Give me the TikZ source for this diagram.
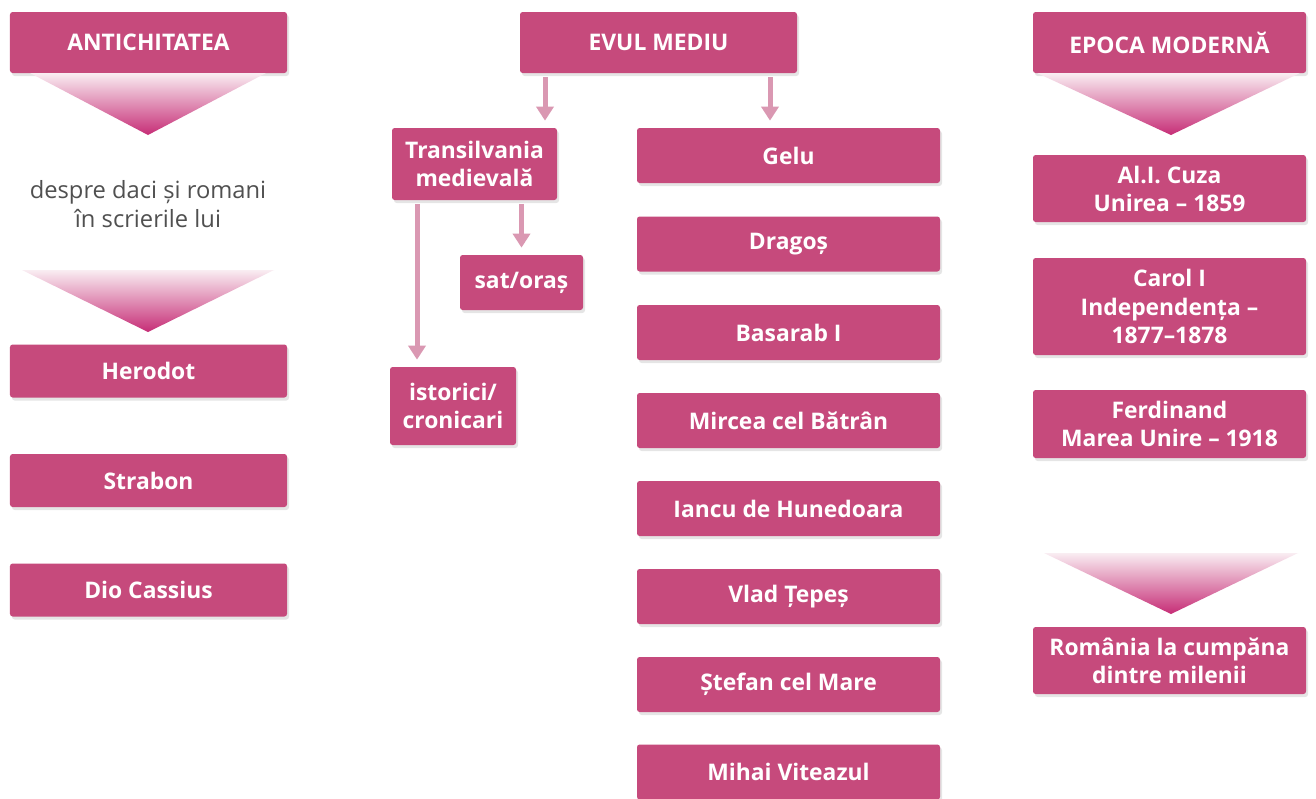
\documentclass[tikz,border=0pt]{standalone}
\usepackage{fontspec}
\setmainfont{Open Sans}
\usetikzlibrary{arrows.meta,shadows}
\definecolor{boxpink}{RGB}{198,74,124}
\definecolor{arrowpink}{RGB}{218,152,178}
\definecolor{tippink}{RGB}{198,45,118}
\definecolor{textgray}{RGB}{80,80,80}
\tikzset{
  box/.style={fill=boxpink, text=white, rounded corners=1.5pt, align=center, inner sep=0pt,
    font=\fontsize{13}{16}\selectfont\bfseries,
    drop shadow={shadow xshift=0.4mm, shadow yshift=-0.6mm, opacity=0.2}},
  arr/.style={arrowpink, line width=1mm, -{Triangle[width=3.4mm,length=2.8mm]},
    shorten >=1.4mm, shorten <=0.8mm},
  funnel/.style={top color=boxpink!10, bottom color=tippink}
}

\begin{document}
\begin{tikzpicture}[x=0.2mm, y=-0.2mm]
    \useasboundingbox (0,0) rectangle (1316,799);
    \fill[white] (0,0) rectangle (1316,799);

    % Antichitatea
    \node[box, minimum width=55.4mm, minimum height=12.2mm] (anti) at (148.5,42.5) {ANTICHITATEA};
    \shade[funnel] (30,73) -- (266,73) -- (148,135) -- cycle;
    \node[align=center, text=textgray, font=\fontsize{13.5}{16.5}\selectfont] (despre) at (148,204)
        {despre daci și romani\\în scrierile lui};
    \shade[funnel] (22,270) -- (274,270) -- (148,332) -- cycle;
    \node[box, minimum width=55.4mm, minimum height=10.6mm] (herodot) at (148.5,371) {Herodot};
    \node[box, minimum width=55.4mm, minimum height=10.6mm] (strabon) at (148.5,480.5) {Strabon};
    \node[box, minimum width=55.4mm, minimum height=10.6mm] (dio) at (148.5,590) {Dio Cassius};

    % Evul mediu
    \node[box, minimum width=55.4mm, minimum height=12.2mm] (evul) at (658.5,42.5) {EVUL MEDIU};
    \node[box, minimum width=33mm, minimum height=14.4mm] (transilv) at (474.5,164) {Transilvania\\medievală};
    \node[box, minimum width=24.6mm, minimum height=11mm] (satoras) at (521.5,282.5) {sat/oraș};
    \node[box, minimum width=25.2mm, minimum height=15.6mm] (istorici) at (453,406) {istorici/\\cronicari};

    \node[box, minimum width=60.6mm, minimum height=11mm] (gelu) at (788.5,155.5) {Gelu};
    \node[box, minimum width=60.6mm, minimum height=11mm] (dragos) at (788.5,244) {Dragoș};
    \node[box, minimum width=60.6mm, minimum height=11mm] (basarab) at (788.5,332.5) {Basarab I};
    \node[box, minimum width=60.6mm, minimum height=11mm] (mircea) at (788.5,420.5) {Mircea cel Bătrân};
    \node[box, minimum width=60.6mm, minimum height=11mm] (iancu) at (788.5,508.5) {Iancu de Hunedoara};
    \node[box, minimum width=60.6mm, minimum height=11mm] (vlad) at (788.5,596.5) {Vlad Țepeș};
    \node[box, minimum width=60.6mm, minimum height=11mm] (stefan) at (788.5,684.5) {Ștefan cel Mare};
    \node[box, minimum width=60.6mm, minimum height=11mm] (mihai) at (788.5,772) {Mihai Viteazul};

    \draw[arr] ([xshift=-22.7mm]evul.south) -- ([xshift=-22.7mm]evul.south |- transilv.north);
    \draw[arr] ([xshift=22.3mm]evul.south) -- ([xshift=22.3mm]evul.south |- gelu.north);
    \draw[arr] (transilv.south -| satoras.north) -- (satoras.north);
    \draw[arr] ([xshift=-11.5mm]transilv.south) -- ([xshift=-11.5mm]transilv.south |- istorici.north);

    % Epoca moderna
    \node[box, minimum width=54.6mm, minimum height=12.2mm] (epoca) at (1169.5,42.5) {EPOCA MODERNĂ};
    \shade[funnel] (1037,73) -- (1300,73) -- (1171,135) -- cycle;
    \node[box, minimum width=54.6mm, minimum height=13.4mm] (cuza) at (1169.5,188.5) {Al.I. Cuza\\Unirea – 1859};
    \node[box, minimum width=54.6mm, minimum height=19.4mm] (carol) at (1169.5,306.5) {Carol I\\Independența –\\1877–1878};
    \node[box, minimum width=54.6mm, minimum height=13.6mm] (ferdinand) at (1169.5,424) {Ferdinand\\Marea Unire – 1918};
    \shade[funnel] (1044,553) -- (1298,553) -- (1171,614) -- cycle;
    \node[box, minimum width=54.6mm, minimum height=13.4mm] (romania) at (1169.5,660.5) {România la cumpăna\\dintre milenii};
\end{tikzpicture}
\end{document}
